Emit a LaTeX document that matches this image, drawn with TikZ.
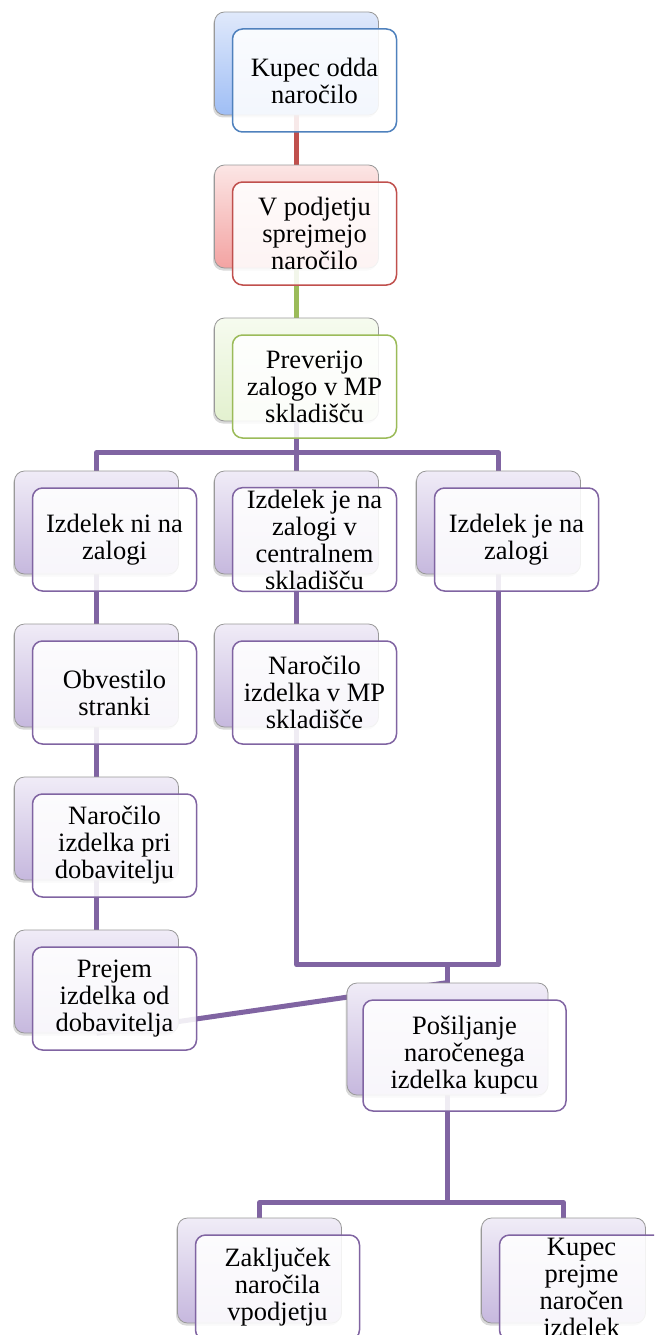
\documentclass[tikz,border=0pt]{standalone}
\usepackage{fontspec}
\setmainfont{Liberation Serif}
\usepackage{xcolor}
\usepackage{tikz}
\usetikzlibrary{positioning,shadows,backgrounds}

\definecolor{blueline}{HTML}{4F81BD}
\definecolor{redline}{HTML}{C0504D}
\definecolor{greenline}{HTML}{9BBB59}
\definecolor{purpline}{HTML}{8064A2}
\definecolor{bluetop}{HTML}{E0E9FB}
\definecolor{bluebot}{HTML}{9FBEF5}
\definecolor{redtop}{HTML}{FCE6E5}
\definecolor{redbot}{HTML}{F3A3A2}
\definecolor{greentop}{HTML}{F6FBEF}
\definecolor{greenbot}{HTML}{E3F1CF}
\definecolor{purptop}{HTML}{F0ECF7}
\definecolor{purpbot}{HTML}{C6B8DE}

\begin{document}
\begin{tikzpicture}[x=1pt,y=-1pt,
    every node/.style={on grid,node distance=153pt},
    back/.style 2 args={rounded corners=10pt,minimum width=164pt,minimum height=103pt,
      draw=gray!80,line width=0.8pt,top color=#1,bottom color=#2,
      drop shadow={opacity=0.3,shadow xshift=-1.5pt,shadow yshift=-2.5pt}},
    front/.style={rounded corners=10pt,minimum width=164pt,minimum height=103pt,
      draw=#1,line width=1.5pt,fill=white,fill opacity=0.88,text opacity=1,
      align=center,inner sep=2pt,font=\fontsize{26.5}{27}\selectfont},
    conn/.style={draw=#1,line width=5pt,line join=round}]
  \useasboundingbox (0,0) rectangle (654,1335);
  \clip (0,0) rectangle (654,1335);

  % back boxes
  \node[back={bluetop}{bluebot}] (kupB) at (296.5,63.5) {};
  \node[back={redtop}{redbot},below of=kupB] (podB) {};
  \node[back={greentop}{greenbot},below of=podB] (preB) {};
  \node[back={purptop}{purpbot},below of=preB] (zalB) {};
  \node[back={purptop}{purpbot},node distance=200pt,left of=zalB] (niB) {};
  \node[back={purptop}{purpbot},node distance=202pt,right of=zalB] (jeB) {};
  \node[back={purptop}{purpbot},below of=niB] (obvB) {};
  \node[back={purptop}{purpbot},below of=zalB] (mpB) {};
  \node[back={purptop}{purpbot},below of=obvB] (dobB) {};
  \node[back={purptop}{purpbot},below of=dobB] (prejB) {};
  \node[back={purptop}{purpbot},minimum width=201pt,minimum height=112pt] (posB) at (447.5,1039) {};
  \node[back={purptop}{purpbot},minimum height=105pt] (zakB) at (259.5,1270.5) {};
  \node[back={purptop}{purpbot},minimum height=105pt] (kpB) at (563.5,1270.5) {};

  % front boxes
  \node[front=blueline,below right=17pt and 18pt of kupB] (kupF) {Kupec odda\\naročilo};
  \node[front=redline,below right=17pt and 18pt of podB] (podF) {V podjetju\\sprejmejo\\naročilo};
  \node[front=greenline,below right=17pt and 18pt of preB] (preF) {Preverijo\\zalogo v MP\\skladišču};
  \node[front=purpline,below right=17pt and 18pt of niB] (niF) {Izdelek ni na\\zalogi};
  \node[front=purpline,below right=17pt and 18pt of zalB] (zalF) {Izdelek je na\\zalogi v\\centralnem\\skladišču};
  \node[front=purpline,below right=17pt and 18pt of jeB] (jeF) {Izdelek je na\\zalogi};
  \node[front=purpline,below right=17pt and 18pt of obvB] (obvF) {Obvestilo\\stranki};
  \node[front=purpline,below right=17pt and 18pt of mpB] (mpF) {Naročilo\\izdelka v MP\\skladišče};
  \node[front=purpline,below right=17pt and 18pt of dobB] (dobF) {Naročilo\\izdelka pri\\dobavitelju};
  \node[front=purpline,below right=17pt and 18pt of prejB] (prejF) {Prejem\\izdelka od\\dobavitelja};
  \node[front=purpline,minimum width=203pt,minimum height=111pt,below right=16.5pt and 17pt of posB] (posF) {Pošiljanje\\naročenega\\izdelka kupcu};
  \node[front=purpline,minimum height=105pt,below right=17pt and 18pt of zakB] (zakF) {Zaključek\\naročila\\vpodjetju};
  \node[front=purpline,minimum height=105pt,below right=17pt and 18pt of kpB] (kpF) {Kupec\\prejme\\naročen\\izdelek};

  % connectors
  \begin{scope}[on background layer]
    \draw[conn=redline] (kupB.south) -- (podB.north);
    \draw[conn=greenline] (podB.south) -- (preB.north);
    \draw[conn=purpline] (preB.south) |- ([yshift=18pt]niB.north) -| (niB.north);
    \draw[conn=purpline] (preB.south) |- ([yshift=18pt]jeB.north) -| (jeB.north);
    \draw[conn=purpline] (preB.south) -- (zalB.north);
    \draw[conn=purpline] (niB.south) -- (obvB.north);
    \draw[conn=purpline] (obvB.south) -- (dobB.north);
    \draw[conn=purpline] (dobB.south) -- (prejB.north);
    \draw[conn=purpline] (zalB.south) -- (mpB.north);
    \draw[conn=purpline] (mpB.south) |- ([yshift=18pt]posB.north) -| (posB.north);
    \draw[conn=purpline] (jeB.south) |- ([yshift=18pt]posB.north) -| (posB.north);
    \draw[conn=purpline] (prejB.south) -- (posB.north);
    \draw[conn=purpline] (posB.south) |- ([yshift=15pt]zakB.north) -| (zakB.north);
    \draw[conn=purpline] (posB.south) |- ([yshift=15pt]kpB.north) -| (kpB.north);
  \end{scope}
\end{tikzpicture}
\end{document}
